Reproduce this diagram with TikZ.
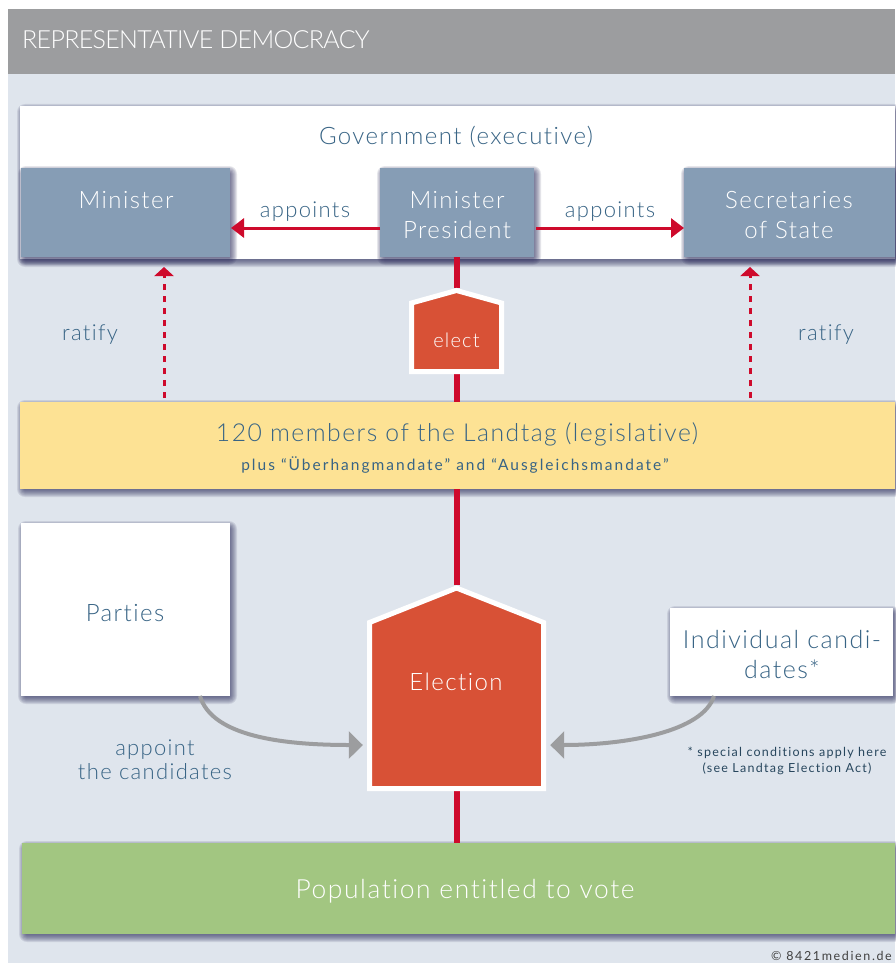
\documentclass[tikz,border=0pt]{standalone}
\usepackage{fontspec}
\setmainfont{Lato Light}[LetterSpace=6,Ligatures=NoCommon]
\newfontfamily\headfont{Lato Light}[LetterSpace=-2.7,Ligatures=NoCommon]
\newfontfamily\widefont{Lato}[LetterSpace=10,Ligatures=NoCommon]
\newfontfamily\widerfont{Lato}[LetterSpace=13,Ligatures=NoCommon]
\usetikzlibrary{arrows.meta}
\definecolor{bgblue}{HTML}{DFE5ED}
\definecolor{headgrey}{HTML}{9C9D9F}
\definecolor{slateblue}{HTML}{869DB5}
\definecolor{textblue}{HTML}{386485}
\definecolor{linered}{HTML}{CE0A2C}
\definecolor{orangered}{HTML}{D85136}
\definecolor{sandy}{HTML}{FDE294}
\definecolor{leaf}{HTML}{A2C681}
\newcommand{\softshadow}[4]{%
  \foreach \d in {8,7,6,5,4,3,2,1,0}{
    \fill[black!70!blue!60!gray,opacity=0.12,rounded corners=\d pt]
      ({#1+5-\d},{#2+6-\d}) rectangle ({#3+\d-1},{#4+\d});
  }}
\tikzset{
  areabox/.style={anchor=north west,inner sep=0pt,outer sep=0pt,draw=none},
  lbl/.style={text=textblue,align=center,inner sep=0pt},
  lblw/.style={text=white,align=center,inner sep=0pt},
  big/.style={font=\fontsize{24}{30}\selectfont},
  mid/.style={font=\fontsize{22}{24}\selectfont},
  redarrow/.style={draw=linered,line width=3pt,-{Triangle[length=13pt,width=19pt]}},
  dashedred/.style={draw=linered,line width=3pt,dash pattern=on 6pt off 6pt,-{Triangle[length=9pt,width=19pt]}},
  greyarrow/.style={draw=headgrey,line width=4pt,-{Triangle[length=14pt,width=27pt]}},
  spine/.style={draw=linered,line width=6pt},
  housebox/.style={fill=orangered,draw=white,line width=5pt,miter limit=10},
}
\begin{document}
\begin{tikzpicture}[x=1pt,y=-1pt]
\useasboundingbox (0,0) rectangle (895,963);
\fill[white] (0,0) rectangle (895,963);
\fill[bgblue] (8,9) rectangle (895,963);
\node[areabox,fill=headgrey,minimum width=887pt,minimum height=65pt] (head) at (8,9) {};
\node[anchor=west,text=white,inner sep=0pt,font=\fontsize{25}{30}\selectfont\headfont] (headtxt) at (22,40) {REPRESENTATIVE DEMOCRACY};

% boxes with shadows
\softshadow{20}{106}{895}{259}
\node[areabox,fill=white,minimum width=875pt,minimum height=153pt] (gov) at (20,106) {};
\softshadow{20}{402}{895}{489}
\node[areabox,fill=sandy,minimum width=875pt,minimum height=87pt] (landtag) at (20,402) {};
\softshadow{21}{523}{230}{696}
\node[areabox,fill=white,minimum width=209pt,minimum height=173pt] (parties) at (21,523) {};
\softshadow{670}{608}{893}{696}
\node[areabox,fill=white,minimum width=223pt,minimum height=88pt] (indiv) at (670,608) {};
\softshadow{22}{843}{895}{934}
\node[areabox,fill=leaf,minimum width=873pt,minimum height=91pt] (popul) at (22,843) {};

\softshadow{21}{168}{230}{257}
\node[areabox,fill=slateblue,minimum width=209pt,minimum height=89pt] (minister) at (21,168) {};
\softshadow{380}{168}{534}{257}
\node[areabox,fill=slateblue,minimum width=154pt,minimum height=89pt] (mp) at (380,168) {};
\softshadow{684}{168}{895}{257}
\node[areabox,fill=slateblue,minimum width=211pt,minimum height=89pt] (sec) at (684,168) {};

% anchors for houses
\node[inner sep=0pt,minimum width=95pt,minimum height=86pt] (electn) at (456.5,331) {};
\node[inner sep=0pt,minimum width=179pt,minimum height=206pt] (electionn) at (456.5,688) {};

% spine
\draw[spine] (mp.south -| electn.north) -- (electn.north);
\draw[spine] (electn.south) -- (landtag.north -| electn.south);
\draw[spine] (landtag.south -| electionn.north) -- (electionn.north);
\draw[spine] (electionn.south) -- (popul.north -| electionn.south);

% houses
\draw[housebox] (411.5,303) -- (456.5,290.5) -- (501.5,303) -- (501.5,371.5) -- (411.5,371.5) -- cycle;
\draw[housebox] (369.5,622.5) -- (456.5,588) -- (543.5,622.5) -- (543.5,788.5) -- (369.5,788.5) -- cycle;

% horizontal arrows
\coordinate (lvl) at (0,228);
\draw[redarrow] (mp.west |- lvl) -- ([xshift=1pt]minister.east |- lvl);
\draw[redarrow] ([xshift=2pt]mp.east |- lvl) -- (sec.west |- lvl);

% dashed arrows
\coordinate (ra) at (164,0);
\coordinate (rb) at (750,0);
\coordinate (tipl) at (0,267);
\draw[dashedred] (ra |- landtag.north) ++(0,-4) -- (ra |- tipl);
\draw[dashedred] (rb |- landtag.north) ++(0,-4) -- (rb |- tipl);

% curves
\coordinate (ps) at (200,696);
\coordinate (is) at (714,696);
\coordinate (lv2) at (0,745);
\draw[greyarrow] (ps) .. controls (212,737) and (285,745) .. ([xshift=-4pt]electionn.west |- lv2);
\draw[greyarrow] (is) .. controls (703,732) and (625,745) .. ([xshift=4pt]electionn.east |- lv2);

% texts
\node[lbl,big] (t1) at (456,137) {Government (executive)};
\node[lblw,big] (t2) at (126,200) {Minister};
\node[lblw,big] (t3) at (457,215) {Minister\\President};
\node[lblw,big] (t4) at (789,215) {Secretaries\\of State};
\node[lbl,mid] (t5) at (305,212) {appoints};
\node[lbl,mid] (t6) at (610,212) {appoints};
\node[lbl,mid] (t7) at (90,335) {ratify};
\node[lbl,mid] (t8) at (826,335) {ratify};
\node[lblw,font=\fontsize{20}{24}\selectfont] (t9) at (electn |- 0,340) {elect};
\node[lbl,font=\fontsize{24.7}{30}\selectfont] (t10) at (457,434) {120 members of the Landtag (legislative)};
\node[lbl,font=\fontsize{15.5}{20}\selectfont\widerfont] (t11) at (455,465) {plus “Überhangmandate” and “Ausgleichsmandate”};
\node[lbl,big] (t12) at (125,613) {Parties};
\node[lbl,font=\fontsize{25}{30}\selectfont] (t13) at (782,654) {Individual candi-\\dates*};
\node[lblw,big] (t14) at (456,682) {Election};
\node[lbl,mid] (t15) at (155,760) {appoint\\the candidates};
\node[lbl,font=\fontsize{12.5}{15.5}\selectfont\widefont,text=textblue!70!black] (t16) at (787,761) {* special conditions apply here\\(see Landtag Election Act)};
\node[lblw,font=\fontsize{26.4}{32}\selectfont] (t17) at (465,891) {Population entitled to vote};
\node[anchor=east,inner sep=0pt,text=black!75,font=\fontsize{12.5}{15}\selectfont\widerfont] (t18) at (892,956) {© 8421medien.de};
\end{tikzpicture}
\end{document}
